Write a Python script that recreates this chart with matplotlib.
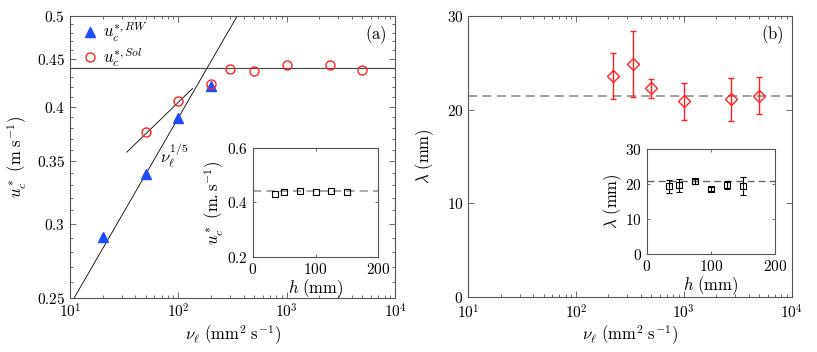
import numpy as np
import matplotlib
matplotlib.use("Agg")
import matplotlib.pyplot as plt
from matplotlib.ticker import FuncFormatter, FixedLocator, MultipleLocator, LogLocator, NullFormatter

plt.rcParams['mathtext.fontset'] = 'cm'
plt.rcParams['font.family'] = ['DejaVu Serif']
plt.rcParams['axes.unicode_minus'] = False

# ---- data: panel (a) ----
nu_rw = [20, 50, 100, 200]
u_rw = [0.2905, 0.3387, 0.389, 0.4213]
nu_sol = [50, 100, 200, 300, 500, 1000, 2500, 5000]
u_sol = [0.376, 0.406, 0.4232, 0.4385, 0.4363, 0.4432, 0.4428, 0.4374]
u_plateau = 0.44
# power-law guide lines: prefactor, exponent, x range
fit1_A, fit1_n, fit1_x = 0.155, 0.2, [10.5, 400]
fit2_A, fit2_n, fit2_x = 0.2415, 0.112, [33.4, 135.5]
# inset (a)
h_a = [35, 50, 75, 100, 125, 150]
u_h = [0.432, 0.438, 0.440, 0.439, 0.440, 0.437]
u_h_mean = 0.44

# ---- data: panel (b) ----
nu_lam = [220, 340, 500, 1000, 2750, 5000]
lam = [23.6, 24.85, 22.3, 20.9, 21.1, 21.5]
lam_err = [2.5, 3.5, 1.0, 2.0, 2.3, 2.0]
lam_mean = 21.5
# inset (b)
h_b = [35, 50, 75, 100, 125, 150]
lam_h = [19.4, 19.7, 20.8, 18.6, 19.7, 19.4]
lam_h_err = [1.9, 1.85, 0.7, 0.65, 1.2, 2.6]
lam_h_mean = 20.8

FS = 11
spine_c = '#555555'
blue = '#1f4dff'
red = '#ff2222'

fig = plt.figure(figsize=(8.17, 3.52), dpi=100)
axA = fig.add_axes([0.0857, 0.1534, 0.3978, 0.8011])
axB = fig.add_axes([0.573, 0.156, 0.396, 0.7985])

math_fmt = FuncFormatter(lambda v, p: r'$%g$' % v)
log_fmt = FuncFormatter(lambda v, p: r'$10^{%d}$' % int(round(np.log10(v))))

def style(ax, minor=True):
    for s in ax.spines.values():
        s.set_color(spine_c)
        s.set_linewidth(0.8)
    ax.tick_params(which='both', direction='in', top=True, right=True,
                   colors=spine_c, labelcolor='black', labelsize=FS, width=0.6)
    ax.tick_params(which='major', length=4)
    ax.tick_params(which='minor', length=2.2)

# ---- panel (a) ----
axA.set_xscale('log')
axA.set_yscale('log')
axA.set_xlim(10, 1e4)
axA.set_ylim(0.25, 0.5)
xs = np.logspace(np.log10(fit1_x[0]), np.log10(fit1_x[1]), 50)
axA.plot(xs, fit1_A * xs ** fit1_n, color='black', lw=0.6)
xs2 = np.logspace(np.log10(fit2_x[0]), np.log10(fit2_x[1]), 50)
axA.plot(xs2, fit2_A * xs2 ** fit2_n, color='black', lw=0.6)
axA.axhline(u_plateau, color='#444444', lw=0.8)
axA.plot(nu_rw, u_rw, '^', color=blue, ms=6.5, ls='none', label=r'$u_c^{*,RW}$')
axA.plot(nu_sol, u_sol, 'o', mfc='none', mec=red, mew=1.0, ms=6.5, ls='none',
         label=r'$u_c^{*,Sol}$')
axA.text(92, 0.355, r'$\nu_\ell^{1/5}$', fontsize=FS + 1, ha='center', va='center')
axA.text(0.975, 0.975, r'$\mathrm{(a)}$', transform=axA.transAxes, fontsize=FS + 1,
         ha='right', va='top')
leg = axA.legend(loc='upper left', frameon=False, fontsize=FS + 1, handletextpad=0.2,
                 borderaxespad=0.0, handlelength=1.2, labelspacing=0.05,
                 bbox_to_anchor=(0.01, 1.005))
axA.yaxis.set_major_locator(FixedLocator([0.25, 0.3, 0.35, 0.4, 0.45, 0.5]))
axA.yaxis.set_minor_locator(FixedLocator(np.arange(0.25, 0.5001, 0.01)))
axA.yaxis.set_major_formatter(math_fmt)
axA.yaxis.set_minor_formatter(NullFormatter())
axA.xaxis.set_major_locator(LogLocator(base=10, numticks=10))
axA.xaxis.set_minor_locator(LogLocator(base=10, subs=np.arange(2, 10), numticks=20))
axA.xaxis.set_major_formatter(log_fmt)
axA.xaxis.set_minor_formatter(NullFormatter())
style(axA)
axA.set_xlabel(r'$\nu_\ell\ (\mathrm{mm^2\ s^{-1}})$', fontsize=FS + 1, labelpad=2)
axA.set_ylabel(r'$u_c^*\ (\mathrm{m\ s^{-1}})$', fontsize=FS + 1)
axA.yaxis.set_label_coords(-0.125, 0.5)

# inset (a)
inA = fig.add_axes([0.3097, 0.270, 0.153, 0.310])
inA.plot(h_a, u_h, 's', mfc='none', mec='black', mew=0.8, ms=5, ls='none')
inA.axhline(u_h_mean, color='#999999', lw=1.2, ls=(0, (5, 3)), zorder=0)
inA.set_xlim(0, 200)
inA.set_ylim(0.2, 0.6)
inA.set_xticks([0, 100, 200])
inA.set_yticks([0.2, 0.4, 0.6])
inA.xaxis.set_major_formatter(math_fmt)
inA.yaxis.set_major_formatter(math_fmt)
style(inA)
inA.tick_params(which='major', length=2)
inA.set_xlabel(r'$h\ (\mathrm{mm})$', fontsize=FS + 1, labelpad=0)
inA.set_ylabel(r'$u_c^*\ (\mathrm{m.s^{-1}})$', fontsize=FS + 1, labelpad=1)

# ---- panel (b) ----
axB.set_xscale('log')
axB.set_xlim(10, 1e4)
axB.set_ylim(0, 30)
axB.axhline(lam_mean, color='#999999', lw=1.3, ls=(0, (5, 3)), zorder=0)
axB.errorbar(nu_lam, lam, yerr=lam_err, fmt='D', mfc='none', mec=red, mew=1.0,
             ms=6, ecolor=red, elinewidth=1.0, capsize=2.5, capthick=0.8)
axB.text(0.975, 0.975, r'$\mathrm{(b)}$', transform=axB.transAxes, fontsize=FS + 1,
         ha='right', va='top')
axB.set_yticks([0, 10, 20, 30])
axB.yaxis.set_major_formatter(math_fmt)
axB.xaxis.set_major_locator(LogLocator(base=10, numticks=10))
axB.xaxis.set_minor_locator(LogLocator(base=10, subs=np.arange(2, 10), numticks=20))
axB.xaxis.set_major_formatter(log_fmt)
axB.xaxis.set_minor_formatter(NullFormatter())
style(axB)
axB.tick_params(axis='x', which='major', pad=5)
axB.set_xlabel(r'$\nu_\ell\ (\mathrm{mm^2\ s^{-1}})$', fontsize=FS + 1, labelpad=1)
axB.set_ylabel(r'$\lambda\ (\mathrm{mm})$', fontsize=FS + 1)
axB.yaxis.set_label_coords(-0.1, 0.5)

# inset (b)
inB = fig.add_axes([0.7915, 0.2784, 0.157, 0.298])
inB.axhline(lam_h_mean, color='#666666', lw=1.0, ls=(0, (5, 3)), zorder=0)
inB.errorbar(h_b, lam_h, yerr=lam_h_err, fmt='s', mfc='none', mec='black', mew=0.8,
             ms=5, ecolor='black', elinewidth=0.8, capsize=2, capthick=0.8)
inB.set_xlim(0, 200)
inB.set_ylim(0, 30)
inB.set_xticks([0, 100, 200])
inB.set_yticks([0, 10, 20, 30])
inB.xaxis.set_major_formatter(math_fmt)
inB.yaxis.set_major_formatter(math_fmt)
style(inB)
inB.tick_params(which='major', length=2)
inB.set_xlabel(r'$h\ (\mathrm{mm})$', fontsize=FS + 1, labelpad=0)
inB.set_ylabel(r'$\lambda\ (\mathrm{mm})$', fontsize=FS + 1, labelpad=1)

fig.savefig('out.png', dpi=100)
